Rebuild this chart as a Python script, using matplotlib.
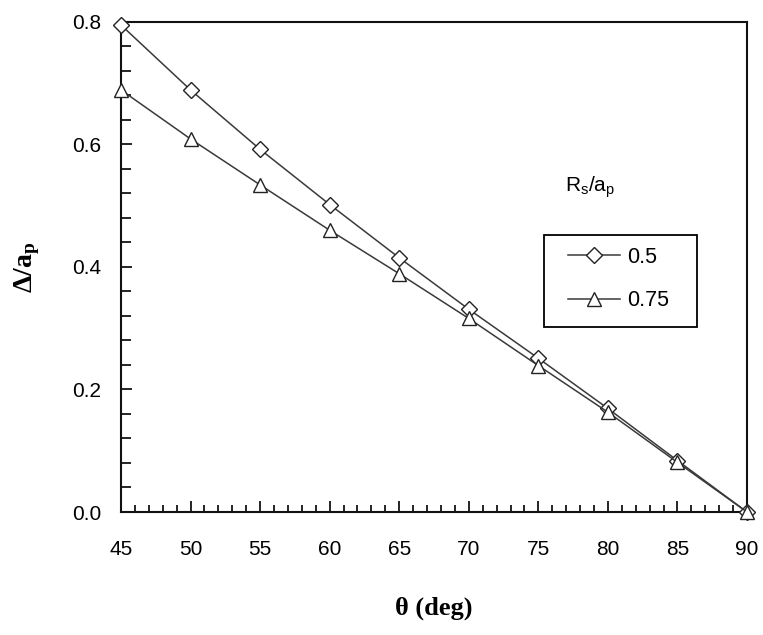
import matplotlib
matplotlib.use("Agg")
import matplotlib.pyplot as plt
from matplotlib.patches import Rectangle
from matplotlib.ticker import MultipleLocator

theta = [45, 50, 55, 60, 65, 70, 75, 80, 85, 90]
d_05 = [0.795, 0.689, 0.592, 0.502, 0.415, 0.331, 0.251, 0.169, 0.084, 0.0]
d_075 = [0.689, 0.609, 0.534, 0.460, 0.389, 0.316, 0.239, 0.163, 0.081, 0.0]
labels = ["0.5", "0.75"]

plt.rcParams["font.family"] = ["Liberation Sans", "DejaVu Sans"]

fig = plt.figure(figsize=(7.63, 6.35), dpi=100)
ax = fig.add_axes([0.1586, 0.1937, 0.8204, 0.7717])

line_col = "#3a3a3a"
ax.plot(theta, d_05, "-", color=line_col, lw=1.1, marker="D", ms=8,
        mfc="white", mec="#222222", mew=1.0, label=labels[0], clip_on=False, zorder=3)
ax.plot(theta, d_075, "-", color=line_col, lw=1.1, marker="^", ms=10.5,
        mfc="white", mec="#222222", mew=1.0, label=labels[1], clip_on=False, zorder=3)

ax.set_xlim(45, 90)
ax.set_ylim(0.0, 0.8)
ax.xaxis.set_major_locator(MultipleLocator(5))
ax.xaxis.set_minor_locator(MultipleLocator(1))
ax.yaxis.set_major_locator(MultipleLocator(0.2))
ax.yaxis.set_minor_locator(MultipleLocator(0.04))
ax.yaxis.set_major_formatter(plt.FormatStrFormatter("%.1f"))

ax.tick_params(which="major", direction="in", length=8, width=1.2, labelsize=15,
               colors="black")
ax.tick_params(which="minor", direction="in", length=5, width=1.2)
ax.tick_params(axis="y", which="minor", length=7)
ax.tick_params(axis="y", which="major", pad=14)
ax.tick_params(axis="x", which="major", pad=20)
for s in ax.spines.values():
    s.set_linewidth(1.5)
    s.set_color("#111111")

ax.set_xlabel(r"θ (deg)", family="Liberation Serif", fontweight="bold",
              fontsize=19, labelpad=27)
ax.set_ylabel(r"Δ/a$\mathregular{_p}$", family="Liberation Serif",
              fontweight="bold", fontsize=20, labelpad=22)

# legend title and boxed legend
ax.text(0.749, 0.662, r"R$\mathregular{_s}$/a$\mathregular{_p}$", transform=ax.transAxes,
        fontsize=15, ha="center", va="center")
ax.add_patch(Rectangle((0.676, 0.378), 0.244, 0.188, transform=ax.transAxes,
                       fill=False, edgecolor="black", lw=1.3, zorder=4))
ax.legend(loc="upper left", bbox_to_anchor=(0.714, 0.541), frameon=False,
          fontsize=15.5, handlelength=2.4, handletextpad=0.33, labelspacing=1.05,
          borderpad=0, borderaxespad=0)

fig.savefig("out.png", dpi=100)
